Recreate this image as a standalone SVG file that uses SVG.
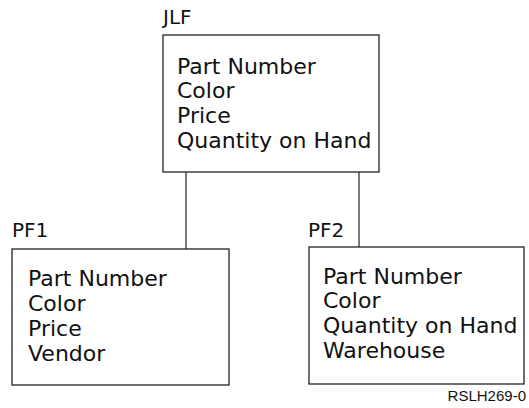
<svg xmlns="http://www.w3.org/2000/svg" width="529" height="408" viewBox="0 0 529 408">
<style>
.box{fill:#fff;stroke:#222;stroke-width:1.3}
.lbl{font-family:"DejaVu Sans",sans-serif;font-size:20px;fill:#111}
.fld{font-family:"DejaVu Sans",sans-serif;font-size:22px;fill:#111}
.con{stroke:#222;stroke-width:1.2;fill:none}
.note{font-family:"Liberation Sans",Arial,sans-serif;font-size:15px;fill:#111}
</style>
<rect width="529" height="408" fill="#fff"/>
<g id="connectors">
<line class="con" x1="186" y1="172" x2="186" y2="249"/>
<line class="con" x1="359" y1="172" x2="359" y2="247"/>
</g>
<g id="JLF">
<text class="lbl" x="163" y="24">JLF</text>
<rect class="box" x="163" y="35" width="216" height="137"/>
<text class="fld" x="177" y="74">Part Number</text>
<text class="fld" x="177" y="98">Color</text>
<text class="fld" x="177" y="123">Price</text>
<text class="fld" x="177" y="148">Quantity on Hand</text>
</g>
<g id="PF1">
<text class="lbl" x="12" y="237">PF1</text>
<rect class="box" x="12" y="249" width="217" height="136"/>
<text class="fld" x="28" y="286">Part Number</text>
<text class="fld" x="28" y="311">Color</text>
<text class="fld" x="28" y="336">Price</text>
<text class="fld" x="28" y="361">Vendor</text>
</g>
<g id="PF2">
<text class="lbl" x="308" y="237">PF2</text>
<rect class="box" x="309" y="247" width="215" height="137"/>
<text class="fld" x="323" y="284">Part Number</text>
<text class="fld" x="323" y="308">Color</text>
<text class="fld" x="323" y="333">Quantity on Hand</text>
<text class="fld" x="323" y="358">Warehouse</text>
</g>
<text class="note" x="526" y="401" text-anchor="end">RSLH269-0</text>
</svg>
